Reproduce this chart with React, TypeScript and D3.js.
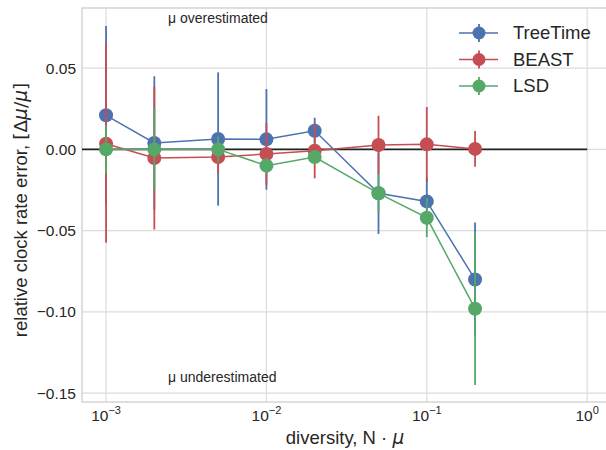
import React from 'react';
import * as d3 from 'd3';

// diversity values (N * mu) on the x axis
const diversity = [0.001, 0.002, 0.005, 0.01, 0.02, 0.05, 0.1, 0.2];

// relative clock rate error, mean and error bar half-width
const treetimeMean = [0.021, 0.004, 0.0064, 0.0062, 0.0115, -0.027, -0.032, -0.080];
const treetimeErr = [0.055, 0.041, 0.041, 0.031, 0.008, 0.025, 0.015, 0.035];
const beastMean = [0.0035, -0.0053, -0.0047, -0.0028, -0.0008, 0.0027, 0.0031, 0.0003];
const beastErr = [0.061, 0.044, 0.010, 0.019, 0.017, 0.018, 0.023, 0.011];
const lsdMean = [0.0, 0.0, 0.0, -0.010, -0.0047, -0.027, -0.042, -0.098];
const lsdErr = [0.015, 0.025, 0.008, 0.005, 0.004, 0.012, 0.012, 0.047];

const seriesNames = ['TreeTime', 'BEAST', 'LSD'];
const seriesColors = ['#4C72B0', '#C44E52', '#55A868'];

const xTickExps = [-3, -2, -1, 0];
const yTicks = [0.05, 0, -0.05, -0.1, -0.15];

const W = 606;
const H = 450;
const margin = { left: 82, top: 8, right: 608, bottom: 402 };

const App = () => {
  const x = d3.scaleLog()
    .domain([Math.pow(10, -3.15), Math.pow(10, 0.13)])
    .range([margin.left, margin.right]);
  const y = d3.scaleLinear()
    .domain([-0.1554, 0.087])
    .range([margin.bottom, margin.top]);

  const series = [
    { mean: treetimeMean, err: treetimeErr },
    { mean: beastMean, err: beastErr },
    { mean: lsdMean, err: lsdErr },
  ];

  const line = d3.line<[number, number]>()
    .x(d => x(d[0]))
    .y(d => y(d[1]));

  const fmt = (v: number) => {
    const s = d3.format('.2f')(Math.abs(v));
    return v < 0 ? '\u2212' + s : s;
  };

  const font = '"Liberation Sans", Arial, sans-serif';
  const mathFont = '"DejaVu Sans", sans-serif';
  const textColor = '#262626';
  const gridColor = '#dcdcdc';

  return (
    <svg width={W} height={H} style={{ position: 'absolute', left: 0, top: 0, fontFamily: font }}>
      <rect x={0} y={0} width={W} height={H} fill="white" />
      <defs>
        <clipPath id="plot">
          <rect x={margin.left} y={margin.top} width={margin.right - margin.left} height={margin.bottom - margin.top} />
        </clipPath>
      </defs>

      {/* grid */}
      {xTickExps.map(e => (
        <line key={'gx' + e} x1={x(Math.pow(10, e))} x2={x(Math.pow(10, e))} y1={margin.top} y2={margin.bottom}
          stroke={gridColor} strokeWidth={1.2} />
      ))}
      {yTicks.map(t => (
        <line key={'gy' + t} x1={margin.left} x2={margin.right} y1={y(t)} y2={y(t)}
          stroke={gridColor} strokeWidth={1.2} />
      ))}

      {/* frame */}
      <rect x={margin.left} y={margin.top} width={margin.right - margin.left} height={margin.bottom - margin.top}
        fill="none" stroke="#d4d4d4" strokeWidth={1.5} />

      {/* zero reference line */}
      <line x1={margin.left} x2={x(1)} y1={y(0)} y2={y(0)} stroke="#222" strokeWidth={1.6} />

      {/* series */}
      <g clipPath="url(#plot)">
        {series.map((s, i) => {
          const pts: [number, number][] = diversity.map((d, j) => [d, s.mean[j]]);
          return (
            <g key={seriesNames[i]}>
              <path d={line(pts) || ''} fill="none" stroke={seriesColors[i]} strokeWidth={1.5} />
              {diversity.map((d, j) => (
                <line key={'e' + j} x1={x(d)} x2={x(d)} y1={y(s.mean[j] - s.err[j])} y2={y(s.mean[j] + s.err[j])}
                  stroke={seriesColors[i]} strokeWidth={1.8} />
              ))}
              {diversity.map((d, j) => (
                <circle key={'m' + j} cx={x(d)} cy={y(s.mean[j])} r={7} fill={seriesColors[i]} />
              ))}
            </g>
          );
        })}
      </g>

      {/* y tick labels */}
      {yTicks.map(t => (
        <text key={'ty' + t} x={margin.left - 6} y={y(t)} dy="0.35em" textAnchor="end"
          fontSize={15.5} fill={textColor}>{fmt(t)}</text>
      ))}

      {/* x tick labels */}
      {xTickExps.map(e => (
        <text key={'tx' + e} x={x(Math.pow(10, e))} y={421} textAnchor="middle" fontSize={15.5} fill={textColor}>
          10<tspan dy={-7} fontSize={11}>{e < 0 ? '\u2212' + Math.abs(e) : String(e)}</tspan>
        </text>
      ))}

      {/* annotations */}
      <text x={168} y={23} fontSize={14} fill={textColor}>μ overestimated</text>
      <text x={168} y={382} fontSize={14} fill={textColor}>μ underestimated</text>

      {/* axis labels */}
      <text x={(margin.left + margin.right) / 2} y={444} textAnchor="middle" fontSize={18.5} fill={textColor}>
        diversity, N · <tspan fontFamily={mathFont} fontStyle="italic">μ</tspan>
      </text>
      <text transform={`translate(27,210) rotate(-90)`} textAnchor="middle"
        fontSize={18.5} fill={textColor}>
        relative clock rate error, <tspan fontFamily={mathFont}>[Δ<tspan fontStyle="italic">μ</tspan>/<tspan fontStyle="italic">μ</tspan>]</tspan>
      </text>

      {/* legend */}
      {seriesNames.map((n, i) => {
        const ly = 33 + i * 26.5;
        return (
          <g key={'lg' + n}>
            <line x1={459} x2={498} y1={ly} y2={ly} stroke={seriesColors[i]} strokeWidth={1.5} />
            <line x1={479} x2={479} y1={ly - 9} y2={ly + 9} stroke={seriesColors[i]} strokeWidth={1.8} />
            <circle cx={479} cy={ly} r={6.5} fill={seriesColors[i]} />
            <text x={513} y={ly} dy="0.35em" fontSize={18.5} fill={textColor}>{n}</text>
          </g>
        );
      })}
    </svg>
  );
};

export default App;
